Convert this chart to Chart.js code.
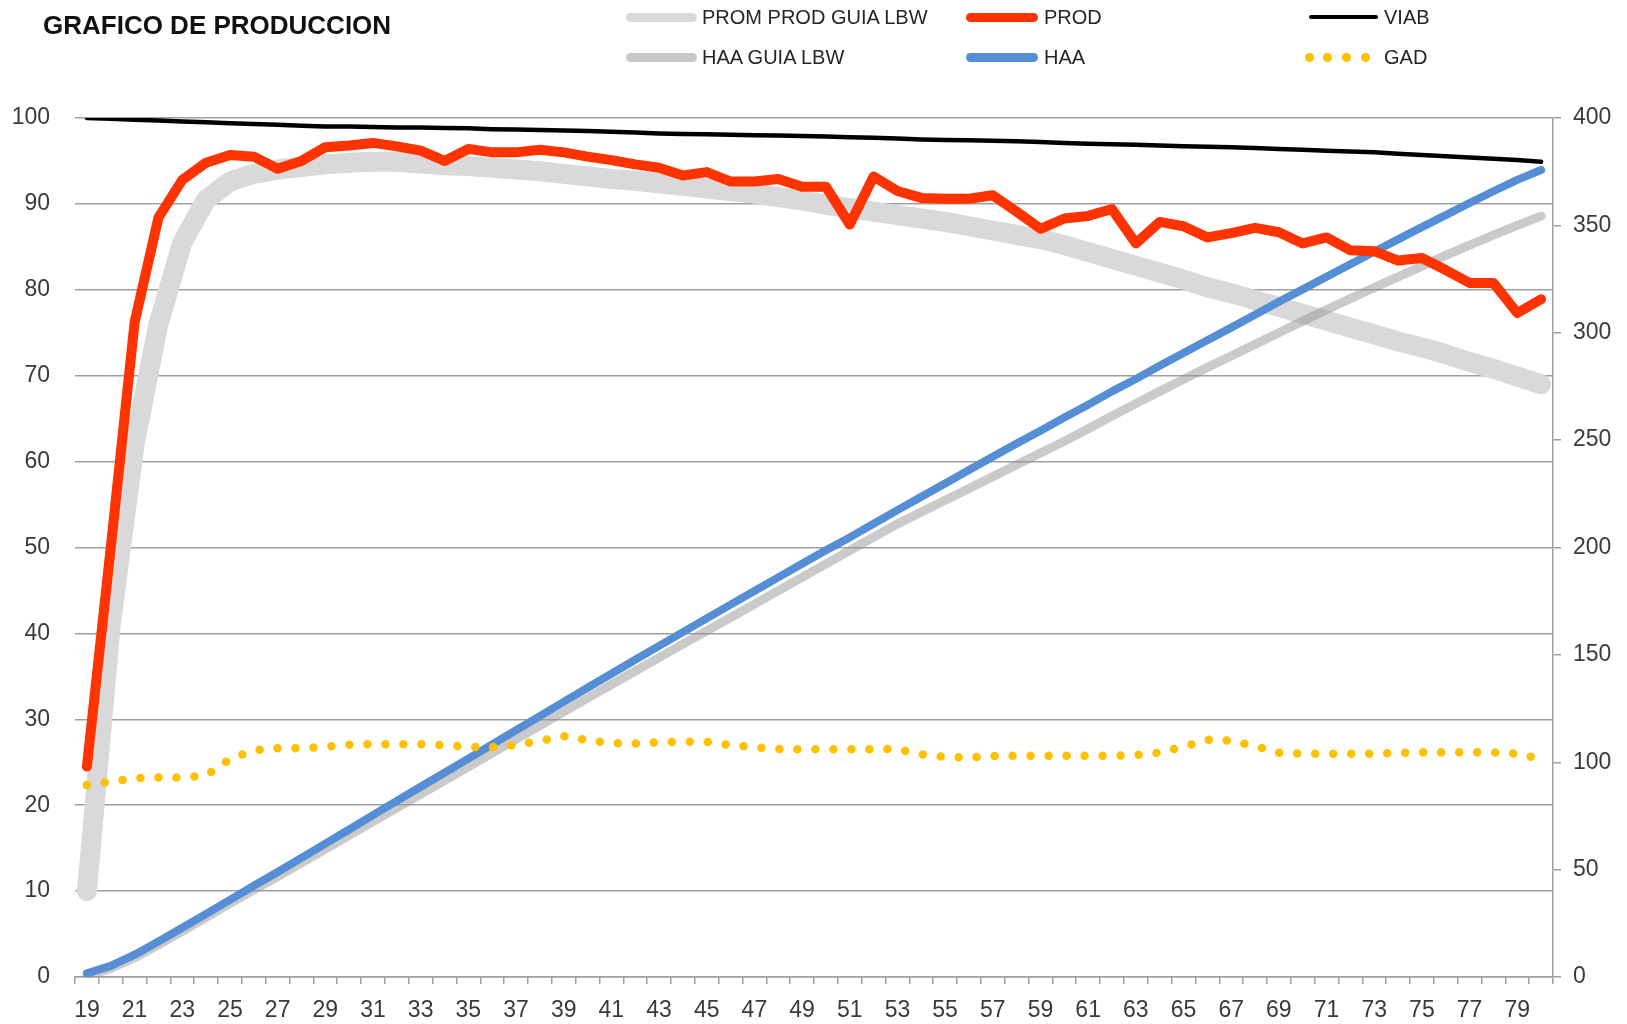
<!DOCTYPE html>
<html>
<head>
<meta charset="utf-8">
<title>GRAFICO DE PRODUCCION</title>
<script src="https://cdn.jsdelivr.net/npm/chart.js@4.4.1/dist/chart.umd.min.js"></script>
<style>
    html, body { margin: 0; padding: 0; background: #ffffff; }
    #wrap { position: relative; width: 1627px; height: 1024px; overflow: hidden; font-family: "Liberation Sans", Arial, sans-serif; }
    #chart { position: absolute; left: 0; top: 0; }
    #title { position: absolute; left: 43px; top: 11px; font-size: 26px; line-height: 28px; font-weight: bold; color: #111; }
    .lg-text { position: absolute; font-size: 20px; line-height: 22px; color: #262626; white-space: nowrap; }
    .lg-line { position: absolute; border-radius: 6px; }
    .lg-dot { position: absolute; width: 9px; height: 9px; border-radius: 50%; background: #FFC000; }
</style>
</head>
<body>
<div id="wrap">
    <canvas id="chart" width="1627" height="1024"></canvas>
    <div id="title">GRAFICO DE PRODUCCION</div>
    <div id="legend"></div>
</div>
<script>
// semanas de edad
var weeks = [19, 20, 21, 22, 23, 24, 25, 26, 27, 28, 29, 30, 31, 32, 33, 34, 35, 36, 37, 38, 39, 40,
             41, 42, 43, 44, 45, 46, 47, 48, 49, 50, 51, 52, 53, 54, 55, 56, 57, 58, 59, 60,
             61, 62, 63, 64, 65, 66, 67, 68, 69, 70, 71, 72, 73, 74, 75, 76, 77, 78, 79, 80];

// % produccion (eje izquierdo)
var promProdGuia = [10, 41, 62, 76, 85.5, 90.5, 92.6, 93.5, 94.0, 94.3, 94.6, 94.8, 94.9, 94.9, 94.7, 94.5,
                    94.4, 94.2, 94.0, 93.8, 93.5, 93.2, 92.9, 92.7, 92.4, 92.1, 91.8, 91.5, 91.2, 90.8,
                    90.4, 89.9, 89.5, 89.1, 88.7, 88.3, 87.9, 87.4, 86.9, 86.4, 85.9, 85.2, 84.4, 83.6,
                    82.8, 82.0, 81.2, 80.3, 79.6, 78.8, 78.0, 77.2, 76.4, 75.6, 74.8, 74.0, 73.3, 72.5,
                    71.6, 70.8, 69.9, 69.0];

var prod = [24.5, 50.0, 76.2, 88.4, 92.8, 94.8, 95.7, 95.5, 94.1, 95.0, 96.6, 96.8, 97.1, 96.7, 96.2, 95.0,
            96.4, 96.0, 96.0, 96.3, 96.0, 95.5, 95.1, 94.6, 94.2, 93.3, 93.7, 92.6, 92.6, 92.9, 92.0,
            92.0, 87.6, 93.2, 91.5, 90.7, 90.6, 90.6, 91.0, 89.1, 87.1, 88.3, 88.6, 89.4, 85.4, 87.9,
            87.4, 86.1, 86.6, 87.2, 86.7, 85.4, 86.1, 84.6, 84.5, 83.4, 83.7, 82.3, 80.8, 80.8, 77.3, 78.9];

var viab = [100, 99.9, 99.8, 99.7, 99.6, 99.5, 99.4, 99.3, 99.2, 99.1, 99.0, 99.0, 98.95, 98.9, 98.9, 98.85,
            98.8, 98.7, 98.65, 98.6, 98.55, 98.5, 98.4, 98.3, 98.2, 98.15, 98.1, 98.05, 98.0, 97.95,
            97.9, 97.85, 97.75, 97.7, 97.6, 97.5, 97.45, 97.4, 97.35, 97.3, 97.2, 97.1, 97.0, 96.95,
            96.9, 96.8, 96.7, 96.65, 96.6, 96.5, 96.4, 96.3, 96.2, 96.1, 96.0, 95.85, 95.7, 95.55,
            95.4, 95.25, 95.1, 94.9];

// huevos acumulados y gramos/ave/dia (eje derecho)
var haaGuia = [0.5, 4.0, 9.0, 15.0, 21.3, 27.8, 34.3, 40.6, 46.8, 53.2, 59.6, 66.0, 72.4, 78.8, 85.2, 91.5,
               97.9, 104.3, 110.7, 117.1, 123.5, 129.9, 136.2, 142.5, 148.7, 155.0, 161.2, 167.4, 173.6,
               179.9, 186.1, 192.4, 198.6, 204.8, 211.0, 216.5, 222.0, 227.5, 233.0, 238.5, 244.0, 249.5,
               255.3, 261.2, 267.0, 272.7, 278.3, 283.8, 289.2, 294.6, 300.0, 305.4, 310.7, 315.9, 321.0,
               326.0, 331.0, 336.0, 340.8, 345.5, 350.0, 354.3];

var haa = [1.7, 5.2, 10.4, 16.5, 22.9, 29.4, 35.9, 42.5, 48.9, 55.5, 62.1, 68.7, 75.4, 82.0, 88.6, 95.1,
           101.7, 108.3, 114.9, 121.5, 128.1, 134.7, 141.2, 147.7, 154.2, 160.6, 167.0, 173.4, 179.7,
           186.1, 192.4, 198.7, 204.7, 211.1, 217.4, 223.6, 229.8, 236.1, 242.3, 248.4, 254.4, 260.5,
           266.5, 272.7, 278.5, 284.6, 290.6, 296.5, 302.4, 308.4, 314.4, 320.2, 326.1, 331.9, 337.7,
           343.5, 349.2, 354.8, 360.4, 365.9, 371.2, 375.8];

var gad = [89.4, 91.0, 92.6, 92.9, 92.9, 93.8, 101.5, 105.6, 106.5, 106.6, 107.2, 108.1, 108.4, 108.4, 108.4,
           108.0, 107.1, 107.0, 108.0, 110.0, 112.2, 110.3, 108.9, 108.7, 109.3, 109.5, 109.5, 108.0,
           107.0, 106.2, 106.0, 106.0, 106.0, 106.1, 106.2, 103.7, 102.4, 102.2, 102.9, 103.0, 103.0,
           103.0, 103.0, 103.0, 103.4, 104.5, 107.2, 110.5, 110.0, 107.6, 104.4, 104.0, 104.0, 104.0,
           104.0, 104.3, 104.6, 104.6, 104.6, 104.6, 104.0, 101.4];

var gridColor = '#9f9f9f';
var tickFont = { family: '"Liberation Sans", Arial, sans-serif', size: 23 };
var tickColor = '#3a3a3a';

function lineSet(label, values, color, width, axis)
{
    return {
        label: label,
        data: values,
        yAxisID: axis,
        borderColor: color,
        backgroundColor: color,
        borderWidth: width,
        pointRadius: 0,
        tension: 0,
        fill: false,
        borderCapStyle: 'round',
        borderJoinStyle: 'round'
    };
}

// first dataset is drawn on top
var datasets = [
    lineSet('VIAB', viab, '#000000', 4.5, 'y'),
    lineSet('PROD', prod, '#FF3300', 10, 'y'),
    lineSet('GAD', gad, '#FFC000', 8.5, 'y2'),
    lineSet('HAA', haa, '#558ED5', 8, 'y2'),
    lineSet('HAA GUIA LBW', haaGuia, 'rgba(150,150,150,0.5)', 9, 'y2'),
    lineSet('PROM PROD GUIA LBW', promProdGuia, '#d9d9d9', 20, 'y')
];
datasets[2].borderDash = [0, 18];

// legend, 3 columns x 2 rows like the excel sheet
var legendItems = [
    { text: 'PROM PROD GUIA LBW', color: '#d9d9d9', h: 9, x: 626, w: 71, tx: 702, y: 17 },
    { text: 'PROD', color: '#FF3300', h: 9, x: 966, w: 72, tx: 1044, y: 17 },
    { text: 'VIAB', color: '#000000', h: 4, x: 1309, w: 69, tx: 1384, y: 17 },
    { text: 'HAA GUIA LBW', color: '#c8c8c8', h: 9, x: 626, w: 71, tx: 702, y: 57 },
    { text: 'HAA', color: '#558ED5', h: 9, x: 966, w: 72, tx: 1044, y: 57 },
    { text: 'GAD', dots: true, x: 1309, w: 60, tx: 1384, y: 57 }
];

function htBuildLegend()
{
    var box = document.getElementById('legend');
    for (let i = 0; i < legendItems.length; i++) {
        var it = legendItems[i];
        if (it.dots) {
            for (let d = 0; d < 4; d++) {
                var dot = document.createElement('div');
                dot.className = 'lg-dot';
                dot.style.left = (it.x - 4.5 + d * 18.7) + 'px';
                dot.style.top = (it.y - 4.5) + 'px';
                box.appendChild(dot);
            }
        } else {
            var ln = document.createElement('div');
            ln.className = 'lg-line';
            ln.style.left = it.x + 'px';
            ln.style.top = (it.y - it.h / 2) + 'px';
            ln.style.width = it.w + 'px';
            ln.style.height = it.h + 'px';
            ln.style.background = it.color;
            box.appendChild(ln);
        }
        var tx = document.createElement('div');
        tx.className = 'lg-text';
        tx.style.left = it.tx + 'px';
        tx.style.top = (it.y - 11) + 'px';
        tx.textContent = it.text;
        box.appendChild(tx);
    }
}

htBuildLegend();

const ctx = document.getElementById('chart').getContext('2d');
var chartId = new Chart(ctx, {
    type: 'line',
    data: {
        labels: weeks,
        datasets: datasets
    },
    options: {
        responsive: false,
        animation: false,
        layout: { padding: { top: 118, left: 0, right: 0, bottom: 0 } },
        plugins: {
            legend: { display: false },
            tooltip: { enabled: false }
        },
        scales: {
            x: {
                type: 'category',
                offset: true,
                grid: { offset: true, drawOnChartArea: false, tickLength: 7, color: gridColor, lineWidth: 1.5 },
                border: { display: true, color: gridColor, width: 1.5 },
                ticks: {
                    autoSkip: false,
                    maxRotation: 0,
                    padding: 13,
                    font: tickFont,
                    color: tickColor,
                    callback: (val, idx) => {
                        return idx % 2 === 0 ? weeks[idx] : '';
                    }
                },
                afterFit: (scale) => { scale.height = 47; }
            },
            y: {
                position: 'left',
                min: 0,
                max: 100,
                grid: { drawTicks: false, color: gridColor, lineWidth: 1.5 },
                border: { display: false },
                ticks: { stepSize: 10, padding: 25, font: tickFont, color: tickColor },
                afterFit: (scale) => { scale.width = 75; }
            },
            y2: {
                position: 'right',
                min: 0,
                max: 400,
                grid: { drawOnChartArea: false, tickLength: 8, color: gridColor, lineWidth: 1.5 },
                border: { display: true, color: gridColor, width: 1.5 },
                ticks: { stepSize: 50, padding: 12, font: tickFont, color: tickColor },
                afterFit: (scale) => { scale.width = 74; }
            }
        }
    }
});
</script>
</body>
</html>
